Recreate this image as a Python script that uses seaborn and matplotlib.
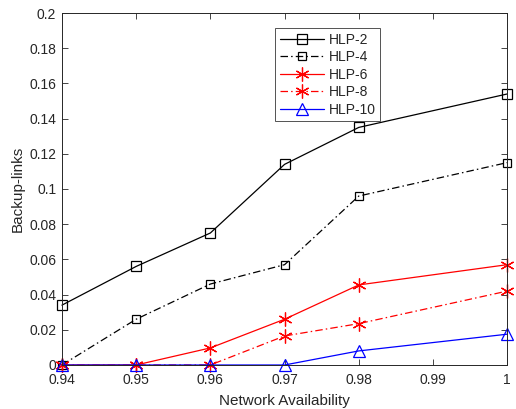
import numpy as np
import pandas as pd
import matplotlib
matplotlib.use("Agg")
import matplotlib.pyplot as plt
import seaborn as sns

availability = [0.94, 0.95, 0.96, 0.97, 0.98, 1.00]
hlp2 = [0.034, 0.056, 0.075, 0.114, 0.135, 0.154]
hlp4 = [0.0, 0.026, 0.046, 0.057, 0.096, 0.115]
hlp6 = [0.0, 0.0, 0.0097, 0.026, 0.0455, 0.057]
hlp8 = [0.0, 0.0, 0.0, 0.0165, 0.0235, 0.042]
hlp10 = [0.0, 0.0, 0.0, 0.0, 0.008, 0.0175]
series_names = ["HLP-2", "HLP-4", "HLP-6", "HLP-8", "HLP-10"]
x_ticks = [0.94, 0.95, 0.96, 0.97, 0.98, 0.99, 1.0]
x_tick_labels = ["0.94", "0.95", "0.96", "0.97", "0.98", "0.99", "1"]
y_ticks = [0, 0.02, 0.04, 0.06, 0.08, 0.1, 0.12, 0.14, 0.16, 0.18, 0.2]
y_tick_labels = ["0", "0.02", "0.04", "0.06", "0.08", "0.1", "0.12", "0.14", "0.16", "0.18", "0.2"]

sns.set_theme(style="white")
plt.rcParams['font.family'] = ['Liberation Sans', 'DejaVu Sans']

rows = []
for name, vals in zip(series_names, [hlp2, hlp4, hlp6, hlp8, hlp10]):
    for a, v in zip(availability, vals):
        rows.append({"Network Availability": a, "Backup-links": v, "series": name})
df = pd.DataFrame(rows)

asterisk = (6, 2, 0)
styles = {
    "HLP-2": dict(color="black", marker="s", ls="-", ms=7),
    "HLP-4": dict(color="black", marker="s", ls=(0, (6, 2.5, 1.2, 2.5)), ms=6),
    "HLP-6": dict(color="red", marker=asterisk, ls="-", ms=10),
    "HLP-8": dict(color="red", marker=asterisk, ls=(0, (6, 2.5, 1.2, 2.5)), ms=10),
    "HLP-10": dict(color="blue", marker="^", ls="-", ms=8),
}

fig = plt.figure(figsize=(5.16, 4.09), dpi=100)
ax = fig.add_axes([0.120, 0.1076, 0.863, 0.8606])

for name in series_names:
    st = styles[name]
    sub = df[df["series"] == name]
    sns.lineplot(data=sub, x="Network Availability", y="Backup-links", ax=ax,
                 color=st["color"], marker=st["marker"], linestyle=st["ls"],
                 markersize=st["ms"], markerfacecolor="none",
                 markeredgecolor=st["color"], markeredgewidth=0.9,
                 linewidth=0.9, label=name, clip_on=False)

ax.set_xlim(0.94, 1.0)
ax.set_ylim(0, 0.2)
ax.set_xticks(x_ticks)
ax.set_xticklabels(x_tick_labels)
ax.set_yticks(y_ticks)
ax.set_yticklabels(y_tick_labels)
ax.tick_params(direction="in", length=4, width=0.6, colors="#262626",
               labelsize=10, top=True, right=True, bottom=True, left=True,
               labeltop=False, labelright=False)
ax.tick_params(axis="x", pad=6)
ax.tick_params(axis="y", pad=4)
for sp in ax.spines.values():
    sp.set_visible(True)
    sp.set_color("#262626")
    sp.set_linewidth(0.7)
ax.set_xlabel("Network Availability", fontsize=11, color="#262626", labelpad=5)
ax.set_ylabel("Backup-links", fontsize=11, color="#262626", labelpad=3)
ax.grid(False)

leg = ax.legend(loc="upper right", bbox_to_anchor=(0.715, 0.958), fontsize=10,
                frameon=True, fancybox=False, edgecolor="#262626",
                handlelength=3.2, handletextpad=0.3, borderpad=0.35,
                labelspacing=0.25, borderaxespad=0)
leg.get_frame().set_linewidth(0.7)
for t in leg.get_texts():
    t.set_color("#262626")

fig.savefig("out.png", dpi=100, facecolor="white")
